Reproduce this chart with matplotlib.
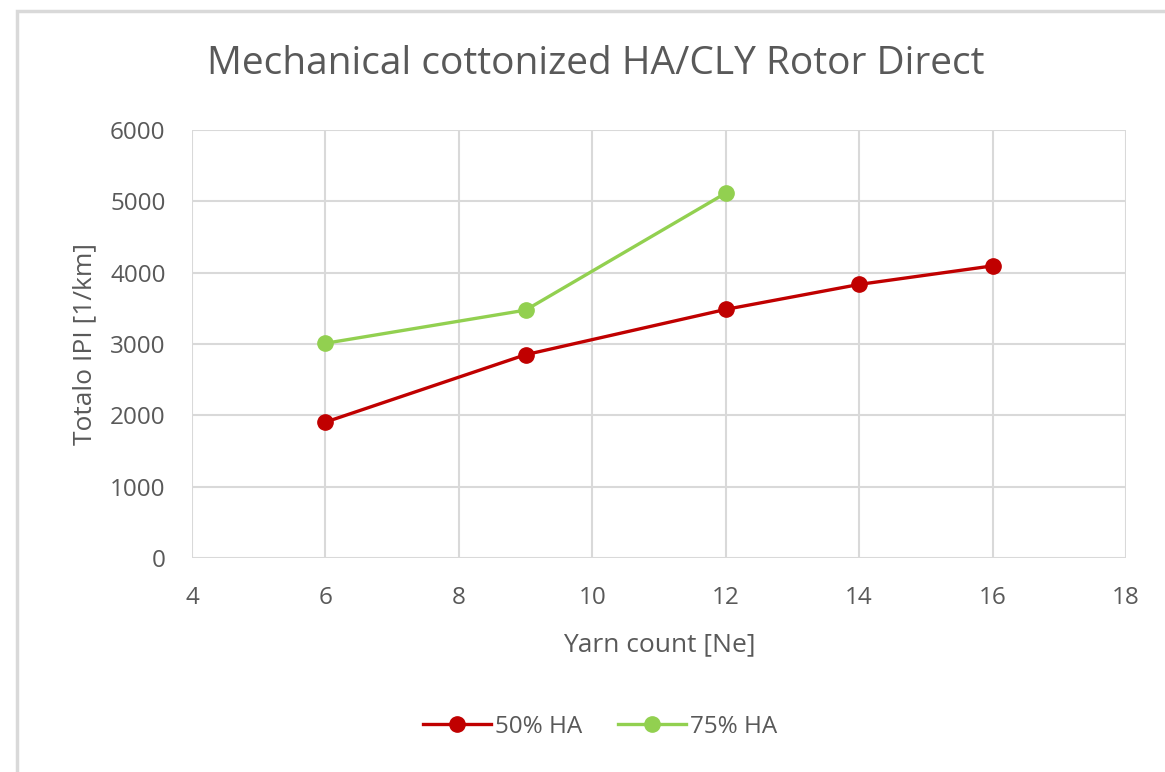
import matplotlib.pyplot as plt
from matplotlib.patches import Rectangle

plt.rcParams['font.family'] = ['Open Sans', 'DejaVu Sans']

count_50 = [6, 9, 12, 14, 16]
ipi_50 = [1905, 2850, 3485, 3835, 4095]
count_75 = [6, 9, 12]
ipi_75 = [3010, 3475, 5115]

txt = '#595959'
grid = '#d9d9d9'

fig = plt.figure(figsize=(11.65, 7.72), dpi=100)
# chart frame (cropped on right/bottom like the reference)
fig.patches.append(Rectangle((17/1165, -0.1), 1.2, 0.1 + 1 - 11/772,
                             transform=fig.transFigure, fill=False,
                             edgecolor='#d9d9d9', linewidth=2.5))

ax = fig.add_axes([192/1165, 1-558/772, 934/1165, 428/772])
ax.plot(count_50, ipi_50, color='#C00000', lw=2.4, marker='o', ms=11, label='50% HA', zorder=3)
ax.plot(count_75, ipi_75, color='#92D050', lw=2.4, marker='o', ms=11, label='75% HA', zorder=3)

ax.set_xlim(4, 18)
ax.set_ylim(0, 6000)
ax.set_xticks(range(4, 19, 2))
ax.set_yticks(range(0, 6001, 1000))
ax.grid(True, color=grid, lw=1.5)
for s in ax.spines.values():
    s.set_visible(False)
ax.tick_params(length=0, labelsize=17.5, labelcolor=txt)
ax.tick_params(axis='y', pad=19)
ax.tick_params(axis='x', pad=20)

ax.set_xlabel('Yarn count [Ne]', fontsize=19, color=txt, labelpad=16)
ax.set_ylabel('Totalo IPI [1/km]', fontsize=19, color=txt, labelpad=9)
fig.text(596/1165, 1-64/772, 'Mechanical cottonized HA/CLY Rotor Direct',
         ha='center', va='center', fontsize=28, color=txt)

fig.legend(loc='center', bbox_to_anchor=(600/1165, 1-727/772), ncol=2, frameon=False,
           fontsize=17.5, labelcolor=txt, handlelength=2.8, columnspacing=1.5, handletextpad=0.15)

fig.savefig('out.png', dpi=100)
